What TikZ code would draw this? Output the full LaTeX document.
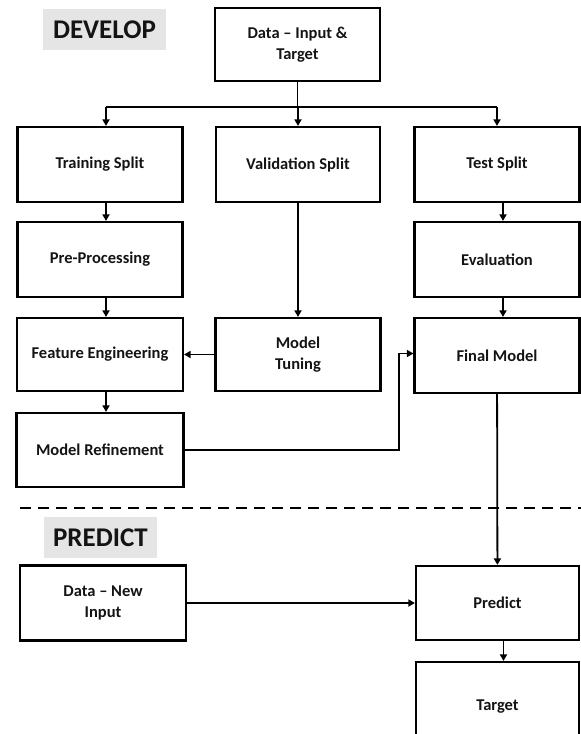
\documentclass[tikz,border=0pt]{standalone}
\usepackage{fontspec}
\setmainfont{Carlito}
\usetikzlibrary{arrows.meta,positioning}

\begin{document}
\begin{tikzpicture}[x=1pt,y=-1pt,
    box/.style={draw=black,line width=2.2pt,fill=white,align=center,
      inner sep=2pt,font=\fontsize{16.5}{20.5}\selectfont\bfseries,text=black!92},
    tag/.style={fill=black!10,font=\fontsize{27}{31}\selectfont\bfseries,text=black!92},
    arr/.style={line width=1.8pt,-{Triangle[length=6.5pt,width=7pt]}},
    bus/.style={line width=1.8pt}]

     \useasboundingbox (0,0) rectangle (581,734);
     \clip (0,0) rectangle (581,734);

     %Develop part
     \node[tag,minimum width=123pt,minimum height=41pt] (develop) at (104.5,29.5) {DEVELOP};
     \node[box,minimum width=165pt,minimum height=73pt] (data) at (297.5,44.5) {Data -- Input \&\\Target};

     \node[box,minimum width=165pt,minimum height=75pt] (train) at (100,164.5) {Training Split};
     \node[box,minimum width=164pt,minimum height=75pt] (valid) at (298,164.5) {Validation Split};
     \node[box,minimum width=165pt,minimum height=75pt] (test)  at (497,164.5) {Test Split};

     \node[box,minimum width=165pt,minimum height=75pt] (prep) at (100,259.5) {Pre-Processing};
     \node[box,minimum width=165pt,minimum height=75pt] (eval) at (497,259.5) {Evaluation};

     \node[box,minimum width=166pt,minimum height=73pt] (feat)  at (100,354.5) {Feature Engineering};
     \node[box,minimum width=165pt,minimum height=73pt] (tune)  at (298,354.5) {Model\\Tuning};
     \node[box,minimum width=165pt,minimum height=75pt] (final) at (497,355.5) {Final Model};

     \node[box,minimum width=167pt,minimum height=74pt] (refine) at (100,450) {Model Refinement};

     \coordinate (bus) at (0,107);
     \coordinate (jog) at (399,0);
     \draw[bus] (data.south) -- (data.south |- bus);
     \draw[bus] ([xshift=6pt]train.north |- bus) -- (test.north |- bus);
     \draw[arr] ([xshift=6pt]train.north |- bus) -- ([xshift=6pt]train.north);
     \draw[arr] (valid.north |- bus) -- (valid.north);
     \draw[arr] (test.north |- bus) -- (test.north);
     \draw[arr] ([xshift=6pt]train.south) -- ([xshift=6pt]prep.north);
     \draw[arr] ([xshift=6pt]prep.south) -- ([xshift=6pt]feat.north);
     \draw[arr] ([xshift=6pt]feat.south) -- ([xshift=6pt]refine.north);
     \draw[arr] ([xshift=6pt]test.south) -- ([xshift=6pt]eval.north);
     \draw[arr] ([xshift=6pt]eval.south) -- ([xshift=6pt]final.north);
     \draw[arr] (valid) -- (tune);
     \draw[arr] (tune) -- (feat);
     \draw[arr] (refine.east) -- (refine.east -| jog) -- ([yshift=2pt]jog |- final.west) -- ([yshift=2pt]final.west);

     %Divider
     \coordinate (cutl) at (20,508);
     \coordinate (cutr) at (581,508);
     \draw[line width=2pt,dash pattern=on 11pt off 7pt] (cutl) -- (cutr);

     %Predict part
     \node[tag,minimum width=113pt,minimum height=41pt] (predlbl) at (100.5,537.5) {PREDICT};
     \node[box,minimum width=166pt,minimum height=75pt] (newin) at (103,603) {Data -- New\\Input};
     \node[box,minimum width=163pt,minimum height=74pt] (predict) at (497.5,603) {Predict};
     \node[box,minimum width=163pt,minimum height=90pt] (target) at (497.5,707) {Target};

     \draw[arr] (final) -- (predict);
     \draw[arr] (newin) -- (predict);
     \draw[arr] ([xshift=6pt]predict.south) -- ([xshift=6pt]target.north);

    \end{tikzpicture}
\end{document}
